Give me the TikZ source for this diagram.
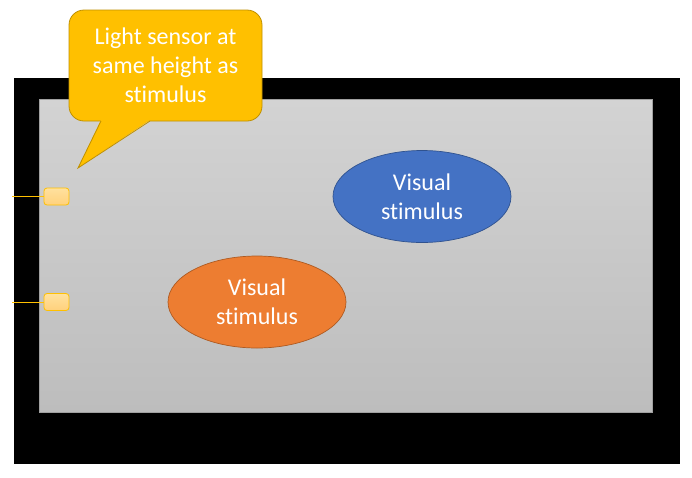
\documentclass[tikz,border=0pt]{standalone}
\usepackage{fontspec}
\setmainfont{Carlito}[Ligatures={NoCommon}]
\usetikzlibrary{shapes.geometric}
\begin{document}
\begin{tikzpicture}[x=1pt,y=-1pt,
  lbl/.style={font=\fontsize{24}{29}\selectfont, text=white, align=center},
  sensorbox/.style={draw=orangeline, line width=0.8pt, rounded corners=3pt,
     top color=sensortop, bottom color=sensorbot, minimum width=25pt, minimum height=17pt, inner sep=0pt},
  stim/.style={ellipse, minimum width=178pt, minimum height=92pt, inner sep=0pt, line width=0.7pt, lbl},
  wire/.style={draw=orangeline, line width=0.9pt}]
\definecolor{orangeline}{HTML}{FFC000}
\definecolor{sensortop}{HTML}{FFE19E}
\definecolor{sensorbot}{HTML}{FFD17C}
\definecolor{calloutfill}{HTML}{FFC000}
\definecolor{calloutedge}{HTML}{BF9000}
\definecolor{bluefill}{HTML}{4472C4}
\definecolor{blueedge}{HTML}{2F528F}
\definecolor{orangefill}{HTML}{ED7D31}
\definecolor{orangeedge}{HTML}{AE5A21}
\definecolor{screentop}{HTML}{D3D3D3}
\definecolor{screenbot}{HTML}{BDBDBD}
\definecolor{screenedge}{HTML}{A0A0A0}
\useasboundingbox[fill=white] (0,0) rectangle (692,477);
% monitor frame
\fill[black] (14,78) rectangle (680,464);
% screen
\draw[screenedge, line width=0.8pt, top color=screentop, bottom color=screenbot] (39,99) rectangle (652,412);
% sensors
\node[sensorbox] (s1) at (56.5,196.5) {};
\node[sensorbox] (s2) at (56.5,302) {};
\coordinate (w1) at (12,196.5);
\coordinate (w2) at (12,302);
\draw[wire] (w1) -- (s1.west);
\draw[wire] (w2) -- (s2.west);
% stimuli
\node[stim, fill=bluefill, draw=blueedge] (blue) at (422,196.5) {Visual\\stimulus};
\node[stim, fill=orangefill, draw=orangeedge] (orange) at (257,302) {Visual\\stimulus};
% callout
\node[draw=calloutedge, fill=calloutfill, line width=0.8pt, rounded corners=15pt,
      minimum width=193pt, minimum height=111pt, inner sep=0pt, lbl] (callout) at (165.5,65.5)
      {Light sensor at\\same height as\\stimulus};
\coordinate (tip) at (78,168);
\fill[calloutfill] (101,120) -- (tip) -- (150,120) -- cycle;
\draw[calloutedge, line width=0.8pt, line join=miter] (101,121) -- (tip) -- (150,121);
\end{tikzpicture}
\end{document}
